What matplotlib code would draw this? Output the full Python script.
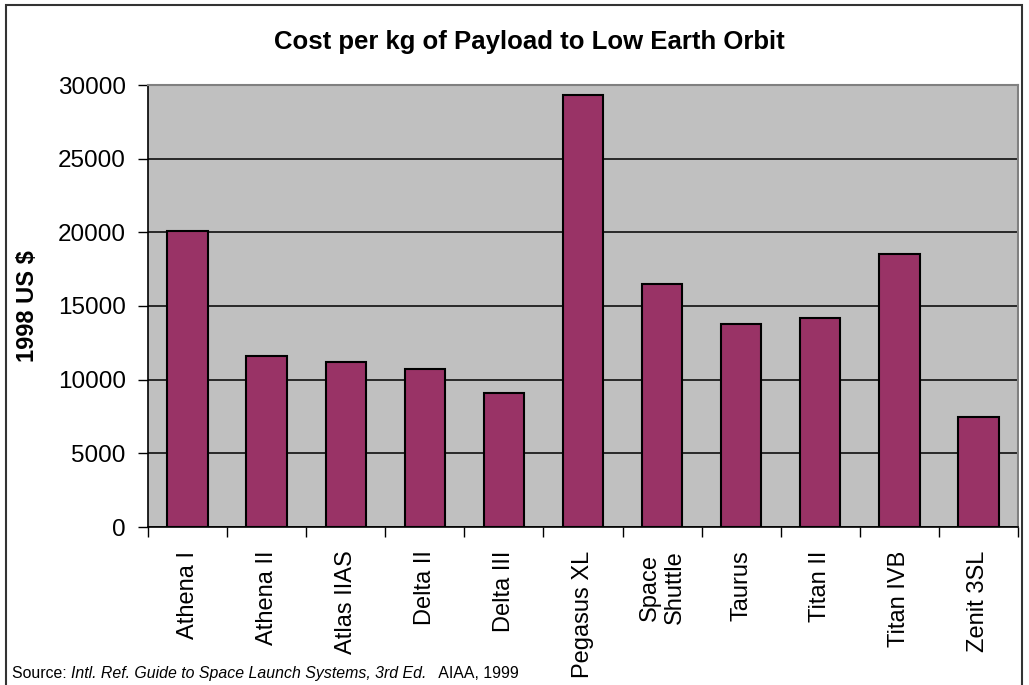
import matplotlib
matplotlib.use("Agg")
import matplotlib.pyplot as plt
from matplotlib.patches import Rectangle
import numpy as np

vehicles = ["Athena I", "Athena II", "Atlas IIAS", "Delta II", "Delta III",
            "Pegasus XL", "Space\nShuttle", "Taurus", "Titan II", "Titan IVB",
            "Zenit 3SL"]
cost_per_kg = [20100, 11630, 11220, 10730, 9080, 29300, 16500, 13780,
               14210, 18520, 7440]
y_ticks = [0, 5000, 10000, 15000, 20000, 25000, 30000]

plt.rcParams["font.family"] = ["Liberation Sans", "DejaVu Sans"]

W, H = 1029, 685
fig = plt.figure(figsize=(W / 100, H / 100), dpi=100)
fig.patch.set_facecolor("white")

# outer chart frame
fig.patches.append(Rectangle((6 / W, -0.02), (1022 - 6) / W, 1.02 - 5 / H,
                             transform=fig.transFigure, fill=False,
                             edgecolor="#333333", linewidth=1.5))

left, right, top, bottom = 148, 1018, 85, 527
ax = fig.add_axes([left / W, 1 - bottom / H, (right - left) / W, (bottom - top) / H])
ax.set_facecolor("#C0C0C0")

x = np.arange(len(vehicles))
ax.bar(x, cost_per_kg, width=0.51, color="#993366", edgecolor="black",
       linewidth=1.5, zorder=3)

ax.set_xlim(-0.5, len(vehicles) - 0.5)
ax.set_ylim(0, 30000)
ax.set_yticks(y_ticks)
ax.set_yticklabels([str(v) for v in y_ticks], fontsize=17.5)
ax.yaxis.grid(True, color="black", linewidth=1.1, zorder=1)
ax.set_axisbelow(True)

ax.set_xticks(x)
ax.set_xticklabels(vehicles, rotation=90, fontsize=17, ha="center", va="top",
                   multialignment="center")
ax.set_xticks(np.arange(len(vehicles) + 1) - 0.5, minor=True)
ax.tick_params(axis="x", which="major", length=0, pad=17)
ax.tick_params(axis="x", which="minor", length=7, width=1, direction="out")
ax.tick_params(axis="y", which="major", length=7, width=1, pad=9)

for side in ("top", "right"):
    ax.spines[side].set_color("#808080")
    ax.spines[side].set_linewidth(1.5)
for side in ("left", "bottom"):
    ax.spines[side].set_color("black")
    ax.spines[side].set_linewidth(1.2)

fig.text(529 / W, 1 - 42 / H, "Cost per kg of Payload to Low Earth Orbit",
         ha="center", va="center", fontsize=18.5, fontweight="bold")
fig.text(28 / W, 1 - 306 / H, "1998 US $", rotation=90, ha="center",
         va="center", fontsize=17, fontweight="bold")

# source line: plain, italic title, plain
fig.canvas.draw()
renderer = fig.canvas.get_renderer()
pieces = [("Source: ", "normal"),
          ("Intl. Ref. Guide to Space Launch Systems, 3rd Ed.", "italic"),
          ("   AIAA, 1999", "normal")]
xpos = 12
for txt, style in pieces:
    t = fig.text(xpos / W, 1 - 678 / H, txt, ha="left", va="baseline",
                 fontsize=11.4, fontstyle=style)
    bb = t.get_window_extent(renderer)
    xpos += bb.width

fig.savefig("out.png", dpi=100)
